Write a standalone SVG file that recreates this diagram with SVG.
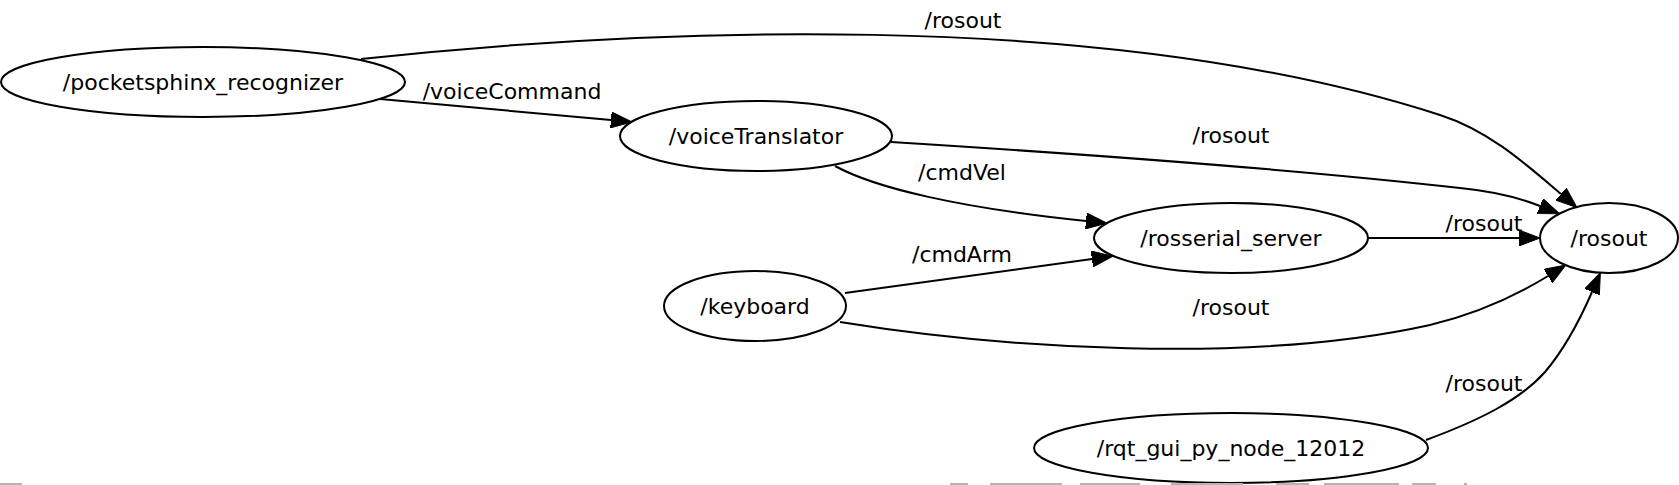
<svg xmlns="http://www.w3.org/2000/svg" width="1679" height="485" viewBox="0 0 1679 485">
<style>
.node ellipse{fill:#fff;stroke:#000;stroke-width:2}
.node text,.lbl{font-family:"DejaVu Sans",sans-serif;font-size:22px;fill:#000;text-anchor:middle}
.edge{fill:none;stroke:#000;stroke-width:2}
.strip{fill:#b4b4b4}
</style>
<defs>
<marker id="arr" markerUnits="userSpaceOnUse" markerWidth="22" markerHeight="16" refX="0" refY="8" orient="auto" viewBox="0 0 22 16">
<path d="M0,0 L21,8 L0,16 z" fill="#000" stroke="#000" stroke-width="1"/>
</marker>
</defs>
<rect width="1679" height="485" fill="#fff"/>
<g id="connectors">
<path class="edge" d="M380,99 L611,120" marker-end="url(#arr)"/>
<path class="edge" d="M361,59 C630,30 1100,5 1440,115 C1490,131 1528,166 1561,194" marker-end="url(#arr)"/>
<path class="edge" d="M891,142 C1100,155 1300,170 1460,188 C1500,192 1525,200 1540,206" marker-end="url(#arr)"/>
<path class="edge" d="M835,166 C875,188 960,208 1086,221" marker-end="url(#arr)"/>
<path class="edge" d="M845,293 L1092,259" marker-end="url(#arr)"/>
<path class="edge" d="M840,322 C1000,348 1250,365 1430,325 C1480,313 1522,292 1548,276" marker-end="url(#arr)"/>
<path class="edge" d="M1426,440 C1480,420 1520,400 1545,372 C1568,345 1582,315 1592,292" marker-end="url(#arr)"/>
<path class="edge" d="M1368,238 L1519,238" marker-end="url(#arr)"/>
<text class="lbl" x="512" y="99">/voiceCommand</text>
<text class="lbl" x="963" y="28">/rosout</text>
<text class="lbl" x="1231" y="143">/rosout</text>
<text class="lbl" x="962" y="180">/cmdVel</text>
<text class="lbl" x="1484" y="231">/rosout</text>
<text class="lbl" x="962" y="262">/cmdArm</text>
<text class="lbl" x="1231" y="315">/rosout</text>
<text class="lbl" x="1484" y="391">/rosout</text>
</g>
<g id="pocketsphinx_recognizer" class="node">
<ellipse cx="203" cy="82" rx="202" ry="35"/>
<text x="203" y="90">/pocketsphinx_recognizer</text>
</g>
<g id="voiceTranslator" class="node">
<ellipse cx="756" cy="136" rx="136" ry="35"/>
<text x="756" y="144">/voiceTranslator</text>
</g>
<g id="rosserial_server" class="node">
<ellipse cx="1231" cy="238" rx="137" ry="35"/>
<text x="1231" y="246">/rosserial_server</text>
</g>
<g id="keyboard" class="node">
<ellipse cx="755" cy="306" rx="91" ry="35"/>
<text x="755" y="314">/keyboard</text>
</g>
<g id="rosout" class="node">
<ellipse cx="1609" cy="238" rx="69" ry="35"/>
<text x="1609" y="246">/rosout</text>
</g>
<g id="rqt_gui_py_node_12012" class="node">
<ellipse cx="1231" cy="448" rx="197" ry="35"/>
<text x="1231" y="456">/rqt_gui_py_node_12012</text>
</g>
<g id="bottom-strips">
<rect class="strip" x="0" y="483" width="22" height="2"/>
<rect class="strip" x="950" y="483" width="18" height="2"/>
<rect class="strip" x="990" y="483" width="72" height="2"/>
<rect class="strip" x="1080" y="483" width="60" height="2"/>
<rect class="strip" x="1171" y="483" width="72" height="2"/>
<rect class="strip" x="1276" y="483" width="33" height="2"/>
<rect class="strip" x="1324" y="483" width="75" height="2"/>
<rect class="strip" x="1412" y="483" width="24" height="2"/>
<rect class="strip" x="1464" y="483" width="3" height="2"/>
</g>
</svg>
